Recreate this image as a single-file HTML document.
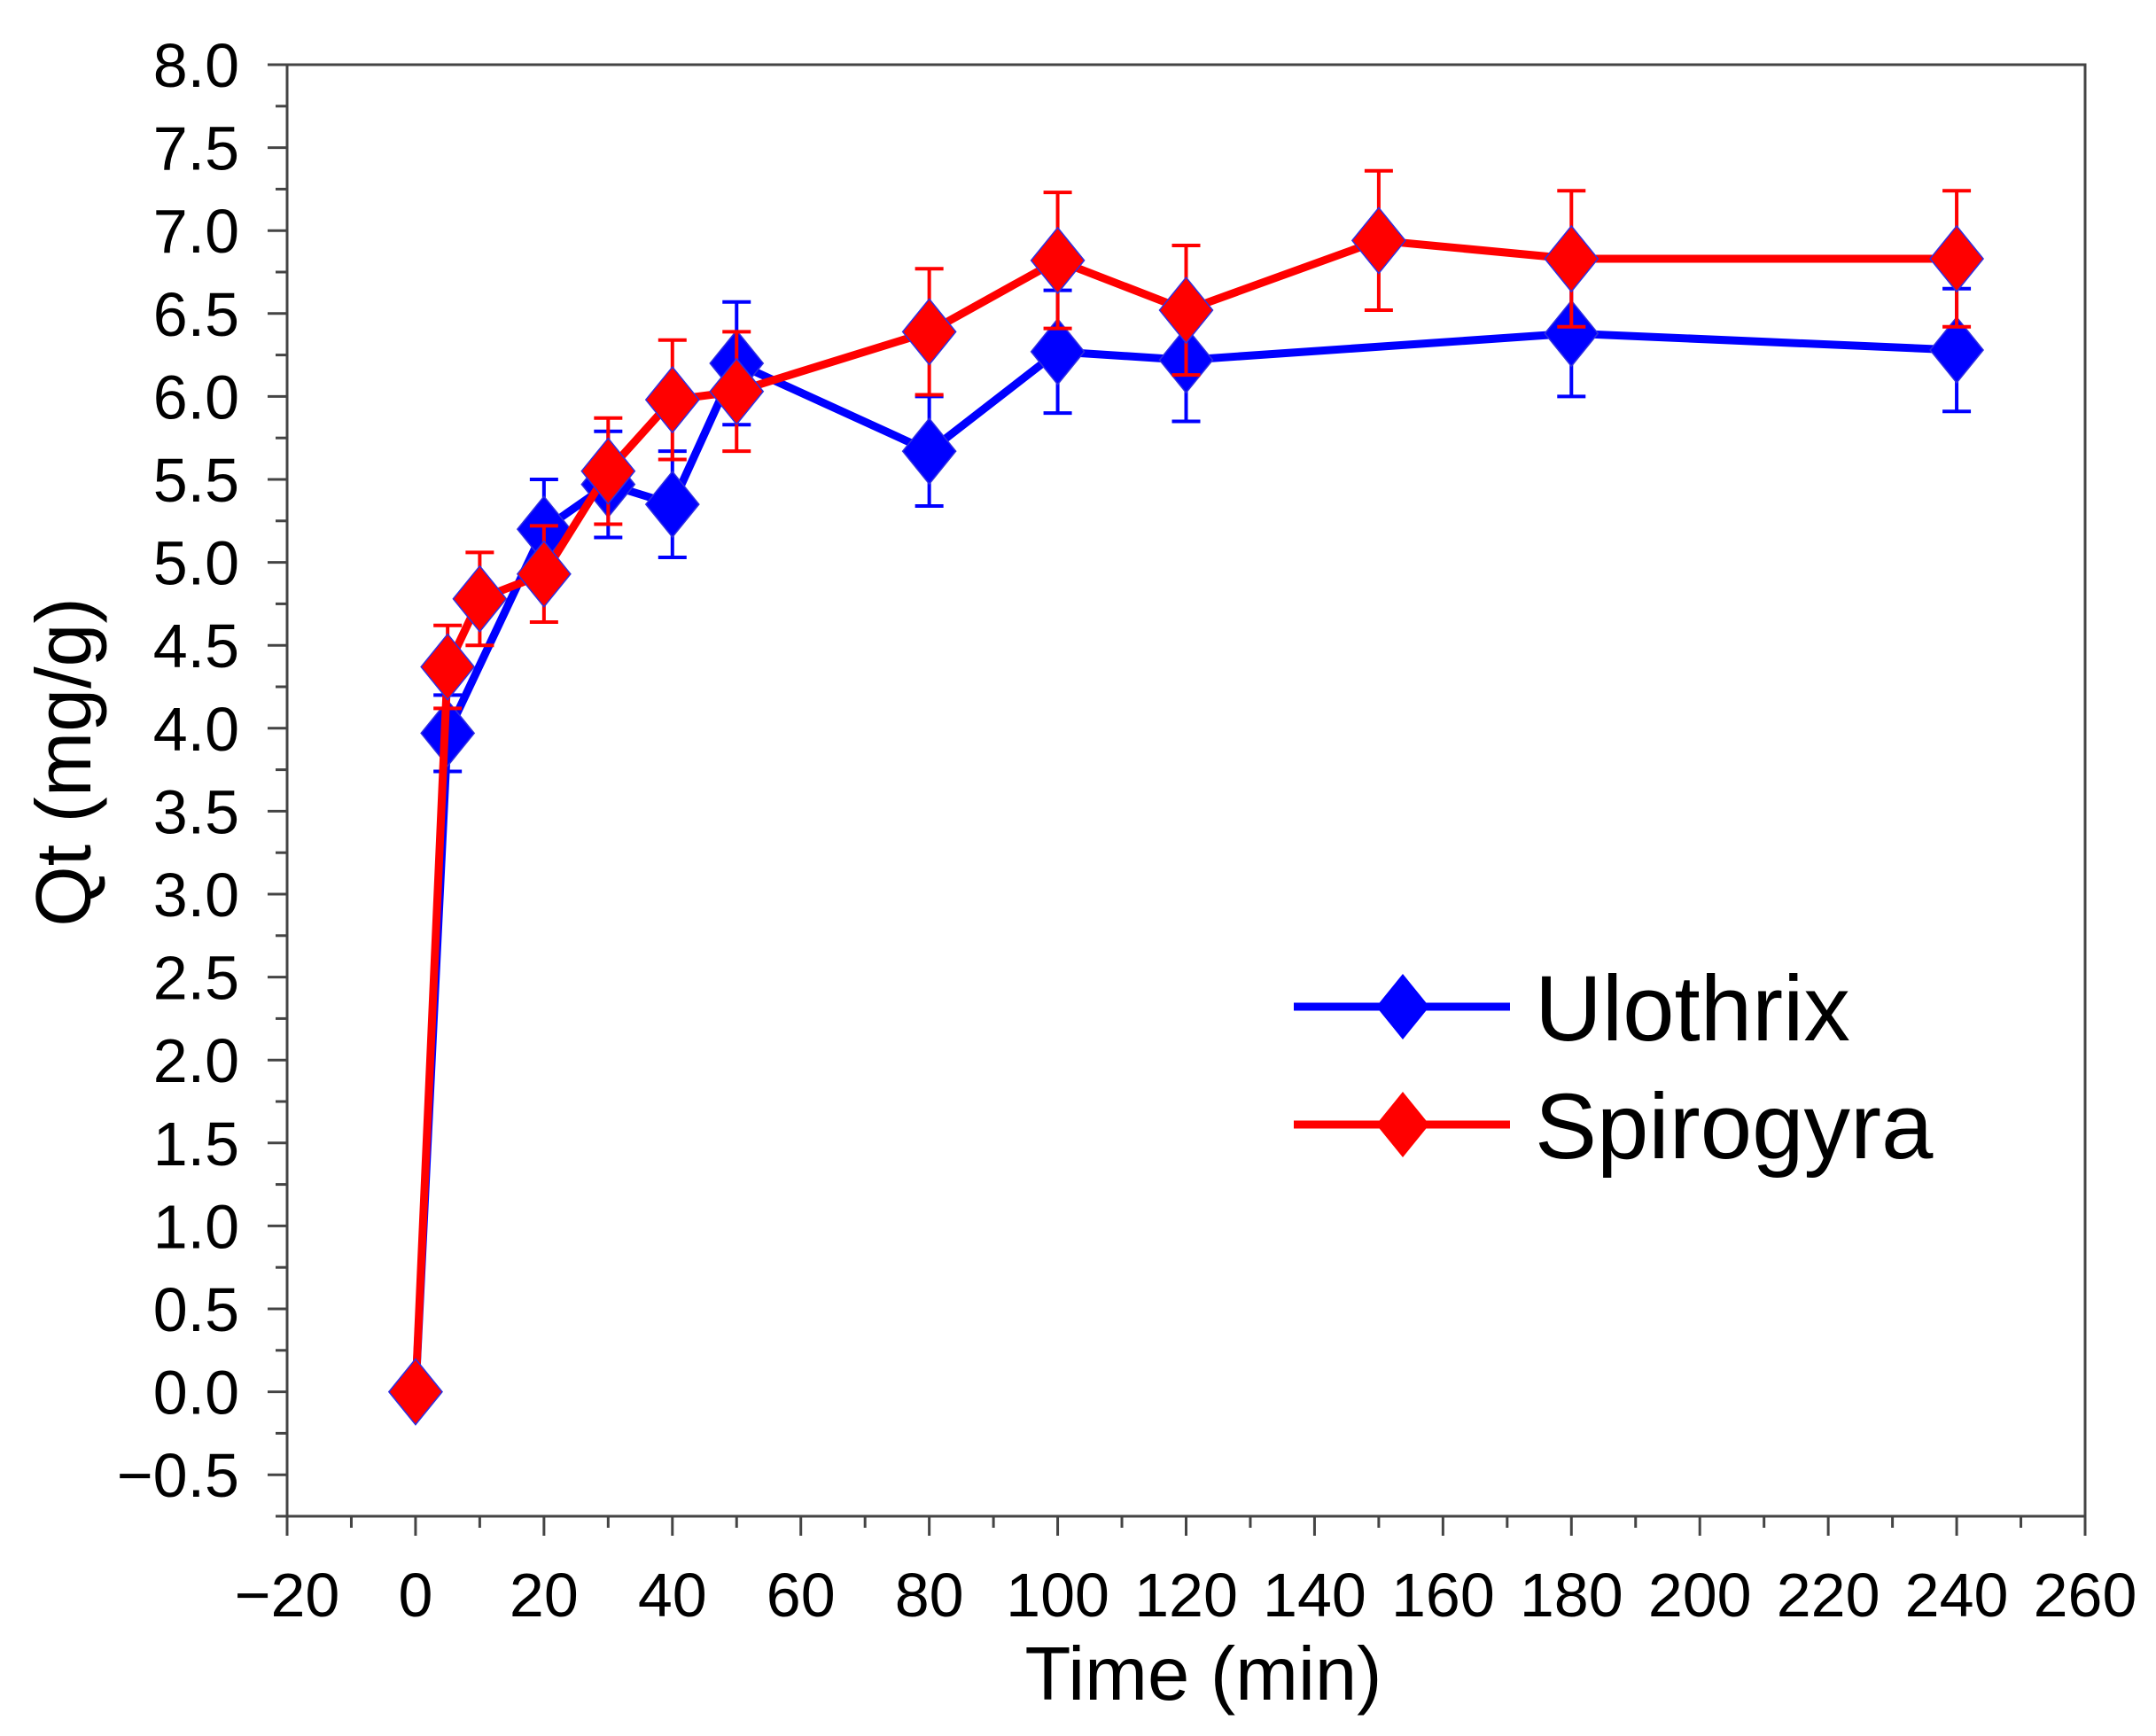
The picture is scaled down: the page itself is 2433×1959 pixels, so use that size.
<!DOCTYPE html>
<html><head><meta charset="utf-8"><style>
html,body{margin:0;padding:0;background:#fff;}
svg{display:block;font-family:"Liberation Sans",Arial,sans-serif;}
</style></head><body>
<svg id="chart" width="2433" height="1959" viewBox="0 0 2433 1959" xmlns="http://www.w3.org/2000/svg">
<rect width="2433" height="1959" fill="#fff"/>
<g id="axes"></g>
<g id="series"></g>
<text x="1358" y="1918" font-size="85" text-anchor="middle">Time (min)</text>
<text transform="translate(102,860) rotate(-90)" font-size="88" text-anchor="middle">Qt (mg/g)</text>
<g id="legend"></g>
</svg>
<script>
const xTicks = [-20,0,20,40,60,80,100,120,140,160,180,200,220,240,260];
const yTicks = [-0.5,0.0,0.5,1.0,1.5,2.0,2.5,3.0,3.5,4.0,4.5,5.0,5.5,6.0,6.5,7.0,7.5,8.0];
const ulothrixX = [0,5,20,30,40,50,80,100,120,180,240];
const ulothrixY = [0,3.97,5.2,5.47,5.35,6.2,5.67,6.27,6.22,6.38,6.28];
const ulothrixErr = [0,0.23,0.3,0.32,0.32,0.37,0.33,0.37,0.37,0.38,0.37];
const spirogyraX = [0,5,10,20,30,40,50,80,100,120,150,180,240];
const spirogyraY = [0,4.37,4.78,4.93,5.55,5.98,6.03,6.39,6.82,6.52,6.94,6.83,6.83];
const spirogyraErr = [0,0.25,0.28,0.29,0.32,0.36,0.36,0.38,0.41,0.39,0.42,0.41,0.41];
const seriesNames = ["Ulothrix","Spirogyra"];

const NS="http://www.w3.org/2000/svg";
const L=324,R=2353,T=73,B=1711, XMIN=-20,XMAX=260,YMIN=-0.75,YMAX=8.0;
function sx(v){return L+(v-XMIN)/(XMAX-XMIN)*(R-L);}
function sy(v){return B-(v-YMIN)/(YMAX-YMIN)*(B-T);}
function mk(tag,attrs,parent){const e=document.createElementNS(NS,tag);for(const k in attrs)e.setAttribute(k,attrs[k]);parent.appendChild(e);return e;}
const axes=document.getElementById('axes');
let frame=mk('rect',{x:L,y:T,width:R-L,height:B-T,fill:'none',stroke:'#444','stroke-width':3},axes);


xTicks.forEach((v,i)=>{
  let t=mk('line',{x1:sx(v),x2:sx(v),y1:B,y2:B+22,stroke:'#444','stroke-width':3},axes);
  
  
  if(i<xTicks.length-1){let m=mk('line',{x1:sx(v+10),x2:sx(v+10),y1:B,y2:B+13,stroke:'#444','stroke-width':3},axes);
  
  }
  let lb=mk('text',{x:sx(v),y:1824,'font-size':70,'text-anchor':'middle'},axes);
  lb.textContent=v<0?'\u2212'+Math.abs(v):String(v);
  
  
});
yTicks.forEach((v,i)=>{
  let t=mk('line',{x1:L-22,x2:L,y1:sy(v),y2:sy(v),stroke:'#444','stroke-width':3},axes);
  
  
  let m=mk('line',{x1:L-13,x2:L,y1:sy(v-0.25),y2:sy(v-0.25),stroke:'#444','stroke-width':3},axes);
  
  
  let lb=mk('text',{x:270,y:sy(v)+25,'font-size':70,'text-anchor':'end'},axes);
  lb.textContent=v<0?'\u2212'+Math.abs(v).toFixed(1):v.toFixed(1);
  
  
});
const ser=document.getElementById('series');
function diamond(cx,cy){return `${cx},${cy-37} ${cx+30},${cy} ${cx},${cy+37} ${cx-30},${cy}`;}
function drawSeries(xs,ys,es,color,name){
  const g=mk('g',{},ser);
  
  
  xs.forEach((x,i)=>{ if(es[i]>0){
    const cx=sx(x),y1=sy(ys[i]+es[i]),y2=sy(ys[i]-es[i]);
    let e=mk('path',{d:`M${cx},${y1}V${y2}M${cx-16},${y1}H${cx+16}M${cx-16},${y2}H${cx+16}`,stroke:color,'stroke-width':4,fill:'none'},g);
    
    
  }});
  let ln=mk('polyline',{points:xs.map((x,i)=>sx(x)+','+sy(ys[i])).join(' '),fill:'none',stroke:color,'stroke-width':9,'stroke-linejoin':'round'},g);
  
  
  xs.forEach((x,i)=>{
    let p=mk('polygon',{points:diamond(sx(x),sy(ys[i])),fill:color,stroke:'#3030e0','stroke-width':1.5},g);
    
    
  });
}
drawSeries(ulothrixX,ulothrixY,ulothrixErr,'#0000ff','ulothrix');
drawSeries(spirogyraX,spirogyraY,spirogyraErr,'#ff0000','spirogyra');
const leg=document.getElementById('legend');
[['#0000ff',1136],['#ff0000',1269]].forEach((c,i)=>{
  let l=mk('line',{x1:1460,x2:1704,y1:c[1],y2:c[1],stroke:c[0],'stroke-width':9},leg);
  
  
  let p=mk('polygon',{points:diamond(1583,c[1]),fill:c[0]},leg);
  
  
  let t=mk('text',{x:1732,y:c[1]+38,'font-size':105},leg);
  t.textContent=seriesNames[i];
  
  
});
</script>
</body></html>
